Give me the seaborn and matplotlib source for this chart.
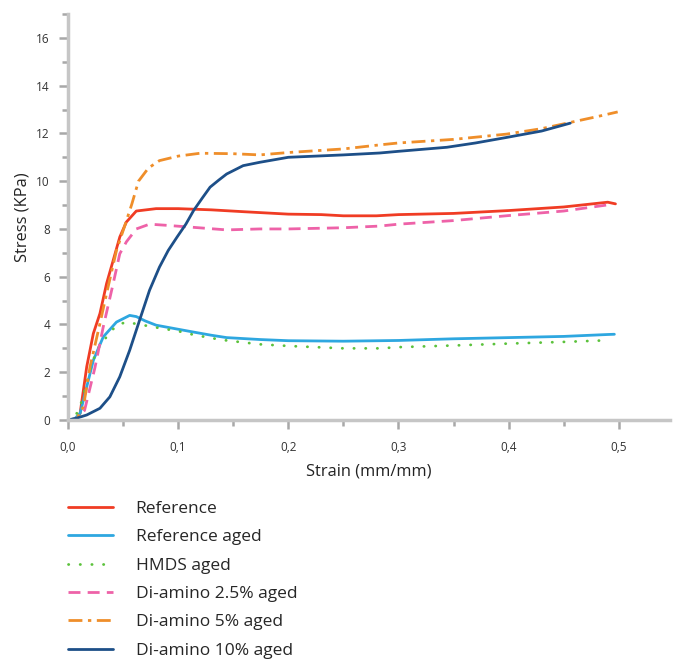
import numpy as np
import pandas as pd
import matplotlib
matplotlib.use("Agg")
import matplotlib.pyplot as plt
import seaborn as sns
from matplotlib.ticker import MultipleLocator, FuncFormatter

sns.set_theme(style="ticks")
plt.rcParams['font.family'] = ['Open Sans', 'DejaVu Sans']

# ---- data ----
ref_x = [0, 0.008, 0.011, 0.017, 0.023, 0.029, 0.035, 0.041, 0.047, 0.053, 0.062, 0.071, 0.08, 0.1, 0.13, 0.16, 0.2, 0.23, 0.25, 0.28, 0.3, 0.35, 0.4, 0.45, 0.49, 0.497]
ref_y = [0, 0.05, 0.28, 2.23, 3.62, 4.46, 5.71, 6.68, 7.66, 8.29, 8.75, 8.8, 8.85, 8.85, 8.8, 8.72, 8.62, 8.6, 8.55, 8.55, 8.6, 8.65, 8.77, 8.92, 9.12, 9.05]

refaged_x = [0, 0.006, 0.011, 0.017, 0.023, 0.032, 0.044, 0.056, 0.062, 0.07, 0.08, 0.1, 0.113, 0.13, 0.144, 0.174, 0.2, 0.25, 0.3, 0.35, 0.4, 0.45, 0.49, 0.496]
refaged_y = [0, 0.05, 0.28, 1.39, 2.5, 3.48, 4.1, 4.38, 4.33, 4.15, 3.97, 3.8, 3.69, 3.55, 3.45, 3.37, 3.32, 3.3, 3.33, 3.4, 3.45, 3.5, 3.58, 3.59]

hmds_x = [0, 0.006, 0.011, 0.02, 0.026, 0.035, 0.044, 0.053, 0.065, 0.083, 0.1, 0.113, 0.13, 0.144, 0.174, 0.2, 0.25, 0.283, 0.3, 0.35, 0.4, 0.45, 0.492]
hmds_y = [0, 0.1, 0.56, 2.09, 2.92, 3.48, 3.97, 4.1, 4.0, 3.85, 3.72, 3.58, 3.43, 3.33, 3.17, 3.1, 3.0, 3.0, 3.05, 3.12, 3.2, 3.27, 3.34]

da25_x = [0, 0.008, 0.015, 0.0245, 0.032, 0.041, 0.047, 0.053, 0.062, 0.074, 0.09, 0.113, 0.144, 0.174, 0.2, 0.25, 0.283, 0.3, 0.35, 0.4, 0.45, 0.492]
da25_y = [0, 0.05, 0.4, 2.2, 3.9, 5.71, 6.96, 7.46, 8.0, 8.2, 8.15, 8.07, 7.96, 8.0, 8.0, 8.05, 8.12, 8.2, 8.35, 8.56, 8.75, 9.02]

da5_x = [0, 0.008, 0.014, 0.02, 0.029, 0.035, 0.044, 0.052, 0.058, 0.064, 0.073, 0.083, 0.1, 0.12, 0.15, 0.174, 0.2, 0.25, 0.283, 0.3, 0.35, 0.398, 0.43, 0.456, 0.48, 0.499]
da5_y = [0, 0.05, 0.56, 2.23, 4.04, 5.29, 7.1, 8.2, 9.05, 10.0, 10.55, 10.86, 11.05, 11.17, 11.15, 11.1, 11.2, 11.35, 11.52, 11.6, 11.75, 11.97, 12.2, 12.46, 12.7, 12.9]

da10_x = [0, 0.008, 0.017, 0.029, 0.038, 0.047, 0.056, 0.065, 0.074, 0.083, 0.091, 0.099, 0.107, 0.114, 0.122, 0.129, 0.137, 0.144, 0.159, 0.174, 0.2, 0.25, 0.283, 0.3, 0.344, 0.37, 0.398, 0.43, 0.456]
da10_y = [0, 0.08, 0.21, 0.49, 0.97, 1.81, 2.92, 4.18, 5.43, 6.4, 7.1, 7.66, 8.2, 8.77, 9.3, 9.75, 10.05, 10.3, 10.65, 10.79, 11.0, 11.1, 11.18, 11.25, 11.42, 11.6, 11.83, 12.1, 12.43]

labels = ["Reference", "Reference aged", "HMDS aged", "Di-amino 2.5% aged", "Di-amino 5% aged", "Di-amino 10% aged"]
series = [(ref_x, ref_y), (refaged_x, refaged_y), (hmds_x, hmds_y), (da25_x, da25_y), (da5_x, da5_y), (da10_x, da10_y)]
colors = ["#f03c24", "#2ea7e0", "#5cc23c", "#ee62a8", "#ef8e2a", "#1d4f88"]
styles = ["-", "-", (0, (0.1, 4.1)), (0, (4.3, 2.6)), (0, (5, 2, 1.2, 2)), "-"]
caps = ["butt", "butt", "round", "butt", "butt", "butt"]

frames = []
for lab, (xs, ys) in zip(labels, series):
    frames.append(pd.DataFrame({"strain": xs, "stress": ys, "series": lab}))
df = pd.concat(frames, ignore_index=True)

fig = plt.figure(figsize=(6.74, 6.62), dpi=100)
ax = fig.add_axes([68/674, 1-420/662, 602/674, 406/662])

for lab, col, ls, cap in zip(labels, colors, styles, caps):
    sub = df[df["series"] == lab]
    sns.lineplot(data=sub, x="strain", y="stress", ax=ax, color=col, linestyle=ls,
                 linewidth=2.0, label=lab, sort=False, estimator=None,
                 dash_capstyle=cap, solid_joinstyle="round")

ax.set_xlim(0, 0.5465)
ax.set_ylim(0, 17)
sns.despine(ax=ax)
for s in ["left", "bottom"]:
    ax.spines[s].set_color("#c6c6c6")
    ax.spines[s].set_linewidth(2.5)

ax.xaxis.set_major_locator(MultipleLocator(0.1))
ax.xaxis.set_minor_locator(MultipleLocator(0.05))
ax.yaxis.set_major_locator(MultipleLocator(2))
ax.yaxis.set_minor_locator(MultipleLocator(1))
ax.xaxis.set_major_formatter(FuncFormatter(lambda v, p: f"{v:.1f}".replace(".", ",")))
ax.yaxis.set_major_formatter(FuncFormatter(lambda v, p: f"{v:.0f}"))
ax.tick_params(axis="both", which="both", direction="out", color="#a8a8a8", width=1.8,
               labelsize=8.5, labelcolor="#333333", bottom=True, left=True)
ax.tick_params(axis="both", which="major", length=6.5, pad=6.5)
ax.tick_params(axis="both", which="minor", length=4)
ax.tick_params(axis="x", which="major", pad=8.5)

ax.set_xlabel("Strain (mm/mm)", fontsize=11.8, color="#222222", labelpad=7)
ax.set_ylabel("Stress (KPa)", fontsize=11.8, color="#222222", labelpad=4)

handles, labs = ax.get_legend_handles_labels()
ax.get_legend().remove()
fig.legend(handles, labs, loc="upper left", bbox_to_anchor=(68/674, 1-501/662),
           frameon=False, fontsize=12.5, handlelength=2.6, handletextpad=1.3,
           labelspacing=0.7, borderpad=0, borderaxespad=0)

fig.savefig("out.png", dpi=100)
